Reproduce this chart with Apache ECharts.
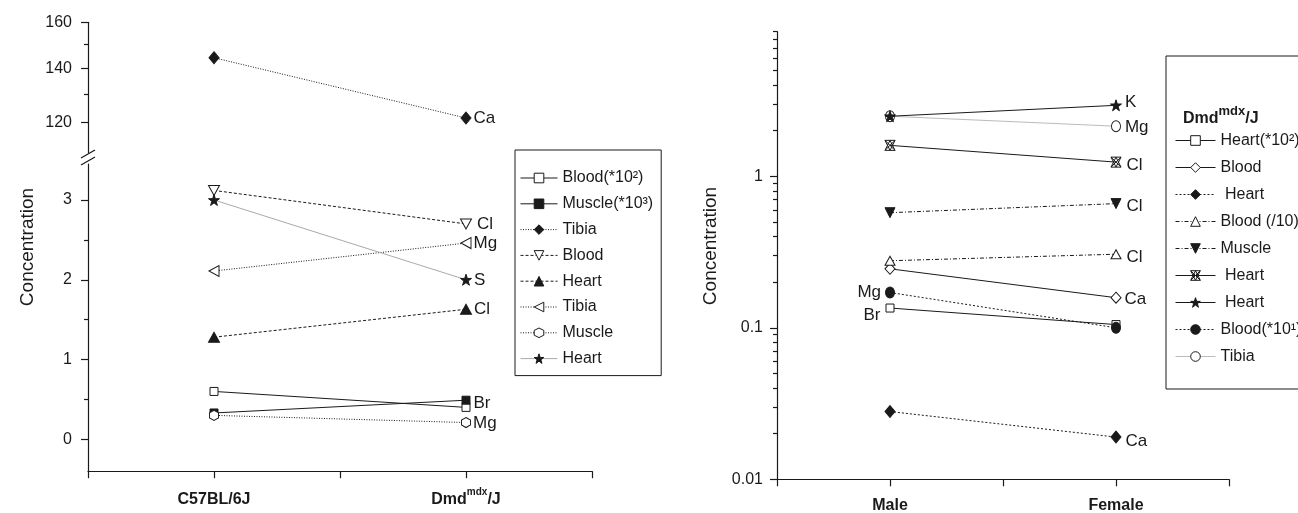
<!DOCTYPE html>
<html><head><meta charset="utf-8">
<script src="https://cdn.jsdelivr.net/npm/echarts@6/dist/echarts.min.js"></script>
<style>html,body{margin:0;padding:0;background:#fff}#c{width:1298px;height:513px}</style>
</head><body><div id="c"></div>
<script>
const FONT = '"Liberation Sans", Arial, Helvetica, sans-serif';
const INK = '#1a1a1a';
const GREY = '#aaaaaa';

// ---------- Left panel data ----------
const leftCategories = ['C57BL/6J', 'Dmd^{mdx}/J'];
const leftNames = ['Blood(*10²)', 'Muscle(*10³)', 'Tibia', 'Blood', 'Heart', 'Tibia', 'Muscle', 'Heart'];
const leftBlood100 = [0.60, 0.40];
const leftMuscle1000 = [0.33, 0.49];
const leftTibiaCa = [144.5, 121.5];
const leftBloodCl = [3.12, 2.70];
const leftHeartCl = [1.28, 1.63];
const leftTibiaMg = [2.11, 2.46];
const leftMuscleMg = [0.30, 0.21];
const leftHeartS = [3.00, 2.00];
const leftEndLabels = ['', 'Br', 'Ca', 'Cl', 'Cl', 'Mg', 'Mg', 'S'];
const leftUpperTicks = [120, 140, 160];
const leftUpperMinor = [130, 150];
const leftLowerTicks = [0, 1, 2, 3];
const leftLowerMinor = [0.5, 1.5, 2.5];

// ---------- Right panel data ----------
const rightCategories = ['Male', 'Female'];
const rightTitle = 'Dmd^{mdx}/J';
const rightNames = ['Heart(*10²)', 'Blood', ' Heart', 'Blood (/10)', 'Muscle', ' Heart', ' Heart', 'Blood(*10¹)', 'Tibia'];
const rightHeart100 = [0.135, 0.105];
const rightBloodCa = [0.245, 0.158];
const rightHeartCa = [0.028, 0.019];
const rightBlood10Cl = [0.277, 0.306];
const rightMuscleCl = [0.575, 0.66];
const rightHeartCl = [1.60, 1.24];
const rightHeartK = [2.49, 2.94];
const rightBlood10Mg = [0.171, 0.100];
const rightTibiaMg = [2.49, 2.14];
const rightStartLabels = ['Br', '', '', '', '', '', '', 'Mg', ''];
const rightEndLabels = ['', 'Ca', 'Ca', 'Cl', 'Cl', 'Cl', 'K', '', 'Mg'];
const rightMajorTicks = [0.01, 0.1, 1];
const rightMinorTicks = [0.02, 0.03, 0.04, 0.05, 0.06, 0.07, 0.08, 0.09,
  0.2, 0.3, 0.4, 0.5, 0.6, 0.7, 0.8, 0.9, 2, 3, 4, 5, 6, 7, 8, 9];

// ---------- symbols ----------
const SYM = {
  triDown: 'path://M0,0L100,0L50,100Z',
  triLeft: 'path://M0,50L100,0L100,100Z',
  hex: 'path://M50,0L95,25L95,75L50,100L5,75L5,25Z',
  star: 'path://M50,0L61.8,34.5L97.6,34.5L68.8,55.9L79.4,90.5L50,69.1L20.6,90.5L31.2,55.9L2.4,34.5L38.2,34.5Z',
  aster: 'path://M50,0L100,100L0,100Z M0,0L100,0L50,100Z M0,0L100,100 M100,0L0,100'
};

function toRich(s, big, small) {
  const m = s.match(/^(.*)\^\{(.*)\}(.*)$/);
  if (!m) return '{' + big + '|' + s + '}';
  return '{' + big + '|' + m[1] + '}{' + small + '|' + m[2] + '}{' + big + '|' + m[3] + '}';
}
const catX = i => 1 + 2 * i;

function mk(o) {
  const data = o.vals.map((v, i) => {
    const d = { value: [catX(i), v] };
    const lab = i === 0 ? o.startLabel : o.endLabel;
    if (lab) {
      d.label = {
        show: true, formatter: lab, position: i === 0 ? 'left' : 'right',
        distance: o.dist == null ? 3 : o.dist,
        offset: i === 0 ? (o.startOffset || [0, 0]) : (o.endOffset || [0, 0])
      };
    }
    return d;
  });
  return {
    type: 'line', name: o.name, xAxisIndex: o.xi, yAxisIndex: o.yi, data,
    symbol: o.symbol, symbolSize: o.size || 9,
    itemStyle: { color: o.fill, borderColor: INK, borderWidth: 1 },
    lineStyle: { color: o.line || INK, width: 1, type: o.dash || 'solid' },
    label: { color: INK, fontSize: 17, fontFamily: FONT },
    emphasis: { disabled: true }, animation: false, z: o.z || 2
  };
}

const series = [
  // left lower grid: xAxis 1, yAxis 2
  mk({ name: leftNames[0] + '#L0', vals: leftBlood100, xi: 1, yi: 2, symbol: 'rect', size: 8, fill: '#fff' }),
  mk({ name: leftNames[1] + '#L1', vals: leftMuscle1000, xi: 1, yi: 2, symbol: 'rect', size: 8, fill: INK, endLabel: leftEndLabels[1], endOffset: [0, 3], dist: 3 }),
  mk({ name: leftNames[2] + '#L2', vals: leftTibiaCa, xi: 0, yi: 0, symbol: 'diamond', size: [10, 12], fill: INK, dash: [1, 1.5], endLabel: leftEndLabels[2], dist: 2 }),
  mk({ name: leftNames[3] + '#L3', vals: leftBloodCl, xi: 1, yi: 2, symbol: SYM.triDown, size: [11, 10], fill: '#fff', dash: [3, 2], endLabel: leftEndLabels[3], dist: 5 }),
  mk({ name: leftNames[4] + '#L4', vals: leftHeartCl, xi: 1, yi: 2, symbol: 'triangle', size: [11, 10], fill: INK, dash: [3, 2], endLabel: leftEndLabels[4], dist: 2 }),
  mk({ name: leftNames[5] + '#L5', vals: leftTibiaMg, xi: 1, yi: 2, symbol: SYM.triLeft, size: [10, 11], fill: '#fff', dash: [1, 1.5], endLabel: leftEndLabels[5], dist: 2 }),
  mk({ name: leftNames[6] + '#L6', vals: leftMuscleMg, xi: 1, yi: 2, symbol: SYM.hex, size: [9, 10], fill: '#fff', dash: [1, 1.5], endLabel: leftEndLabels[6], dist: 2, endOffset: [0, 1] }),
  mk({ name: leftNames[7] + '#L7', vals: leftHeartS, xi: 1, yi: 2, symbol: SYM.star, size: 11, fill: INK, line: GREY, endLabel: leftEndLabels[7], dist: 2, endOffset: [0, 1] }),
  // right grid: xAxis 2, yAxis 4
  mk({ name: rightNames[0] + '#R0', vals: rightHeart100, xi: 2, yi: 4, symbol: 'rect', size: 8, fill: '#fff', startLabel: rightStartLabels[0], startOffset: [0, 7], dist: 5 }),
  mk({ name: rightNames[1] + '#R1', vals: rightBloodCa, xi: 2, yi: 4, symbol: 'diamond', size: [10, 11], fill: '#fff', endLabel: rightEndLabels[1], endOffset: [0, 2], dist: 3 }),
  mk({ name: rightNames[2] + '#R2', vals: rightHeartCa, xi: 2, yi: 4, symbol: 'diamond', size: [10, 12], fill: INK, dash: [2, 2], endLabel: rightEndLabels[2], endOffset: [0, 4], dist: 4 }),
  mk({ name: rightNames[3] + '#R3', vals: rightBlood10Cl, xi: 2, yi: 4, symbol: 'triangle', size: [10, 9], fill: '#fff', dash: [4, 2, 1, 2], endLabel: rightEndLabels[3], endOffset: [0, 3], dist: 5 }),
  mk({ name: rightNames[4] + '#R4', vals: rightMuscleCl, xi: 2, yi: 4, symbol: SYM.triDown, size: [10, 10], fill: INK, dash: [4, 2, 1, 2], endLabel: rightEndLabels[4], endOffset: [0, 3], dist: 5 }),
  mk({ name: rightNames[5] + '#R5', vals: rightHeartCl, xi: 2, yi: 4, symbol: SYM.aster, size: [10, 10], fill: 'rgba(0,0,0,0)', endLabel: rightEndLabels[5], endOffset: [0, 3], dist: 5 }),
  mk({ name: rightNames[6] + '#R6', vals: rightHeartK, xi: 2, yi: 4, symbol: SYM.star, size: 11, fill: INK, endLabel: rightEndLabels[6], endOffset: [0, -3], dist: 3 }),
  mk({ name: rightNames[7] + '#R7', vals: rightBlood10Mg, xi: 2, yi: 4, symbol: 'circle', size: [9, 11], fill: INK, dash: [2, 2], startLabel: rightStartLabels[7], dist: 4 }),
  mk({ name: rightNames[8] + '#R8', vals: rightTibiaMg, xi: 2, yi: 4, symbol: 'circle', size: [9, 11], fill: '#fff', line: '#bbbbbb', endLabel: rightEndLabels[8], endOffset: [0, 1], dist: 4, z: 1 })
];

const richX = {
  b: { fontSize: 16, fontWeight: 'bold', fontFamily: FONT, color: INK, lineHeight: 20, verticalAlign: 'bottom' },
  s: { fontSize: 10, fontWeight: 'bold', fontFamily: FONT, color: INK, lineHeight: 20, verticalAlign: 'top' }
};
function xLabelFmt(cats) {
  return v => {
    const i = (v - 1) / 2;
    if (Number.isInteger(i) && cats[i] != null) return toRich(cats[i], 'b', 's');
    return '';
  };
}
const xCommon = {
  type: 'value', min: 0, max: 4, interval: 1,
  axisLine: { onZero: false, lineStyle: { color: INK, width: 1.2 } },
  axisTick: { length: 7, lineStyle: { color: INK, width: 1.2 } },
  splitLine: { show: false }
};
const yMajorStyle = (ticks, margin) => ({
  position: 'left',
  axisLine: { show: true, onZero: false, lineStyle: { color: INK, width: 1.2 } },
  axisTick: { show: true, length: 7, customValues: ticks, lineStyle: { color: INK, width: 1.2 } },
  axisLabel: { customValues: ticks, fontSize: 16, color: INK, fontFamily: FONT, margin: margin,
    formatter: v => String(+(+v).toPrecision(6)) },
  splitLine: { show: false }, minorTick: { show: false }
});
const yMinorStyle = ticks => ({
  position: 'left',
  axisLine: { show: false, onZero: false },
  axisTick: { show: true, length: 4, customValues: ticks, lineStyle: { color: INK, width: 1.2 } },
  axisLabel: { show: false },
  splitLine: { show: false }
});

const legendCommon = {
  orient: 'vertical', selectedMode: false, borderColor: INK, borderWidth: 1, borderRadius: 0,
  itemHeight: 12, textStyle: { fontSize: 16, color: INK, fontFamily: FONT, lineHeight: 15 },
  itemStyle: { borderWidth: 1 }, lineStyle: { width: 1 },
  formatter: n => n.replace(/#\w+$/, '')
};

const option = {
  backgroundColor: '#fff',
  animation: false,
  grid: [
    { left: 88, top: 22.3, width: 504, height: 130.3, outerBoundsMode: 'none' },
    { left: 88, top: 164.1, width: 504, height: 307.1, outerBoundsMode: 'none' },
    { left: 777, top: 31.7, width: 452, height: 447.6, outerBoundsMode: 'none' }
  ],
  xAxis: [
    Object.assign({}, xCommon, { gridIndex: 0, show: false }),
    Object.assign({}, xCommon, { gridIndex: 1, axisLabel: { formatter: xLabelFmt(leftCategories), margin: 16, rich: richX } }),
    Object.assign({}, xCommon, { gridIndex: 2, axisLabel: { formatter: xLabelFmt(rightCategories), margin: 14, rich: richX } })
  ],
  yAxis: [
    Object.assign({ gridIndex: 0, type: 'log', logBase: 10, min: 110, max: 160 }, yMajorStyle(leftUpperTicks, 16)),
    Object.assign({ gridIndex: 0, type: 'log', logBase: 10, min: 110, max: 160 }, yMinorStyle(leftUpperMinor)),
    Object.assign({ gridIndex: 1, type: 'value', min: -0.4, max: 3.45 }, yMajorStyle(leftLowerTicks, 16)),
    Object.assign({ gridIndex: 1, type: 'value', min: -0.4, max: 3.45 }, yMinorStyle(leftLowerMinor)),
    Object.assign({ gridIndex: 2, type: 'log', logBase: 10, min: 0.01, max: 9 }, yMajorStyle(rightMajorTicks, 14)),
    Object.assign({ gridIndex: 2, type: 'log', logBase: 10, min: 0.01, max: 9 }, yMinorStyle(rightMinorTicks))
  ],
  legend: [
    Object.assign({}, legendCommon, {
      left: 515, top: 150, padding: [20, 8, 9, 5], itemGap: 9.8, itemWidth: 37,
      data: series.filter(s => /#L/.test(s.name)).map(s => s.name)
    }),
    Object.assign({}, legendCommon, {
      left: 1166, top: 56, padding: [76.5, 20, 24.5, 9], itemGap: 11, itemWidth: 40,
      data: series.filter(s => /#R/.test(s.name)).map(s => s.name)
    })
  ],
  graphic: [
    { type: 'line', shape: { x1: 81, y1: 158, x2: 95, y2: 150 }, style: { stroke: INK, lineWidth: 1.2 }, z: 10 },
    { type: 'line', shape: { x1: 81, y1: 165, x2: 95, y2: 157 }, style: { stroke: INK, lineWidth: 1.2 }, z: 10 },
    { type: 'text', x: 28, y: 247, rotation: Math.PI / 2,
      style: { text: 'Concentration', fontSize: 19, fontFamily: FONT, fill: INK, align: 'center', verticalAlign: 'middle' } },
    { type: 'text', x: 711, y: 246, rotation: Math.PI / 2,
      style: { text: 'Concentration', fontSize: 19, fontFamily: FONT, fill: INK, align: 'center', verticalAlign: 'middle' } },
    { type: 'text', x: 1183, y: 116,
      style: { text: toRich(rightTitle, 'b', 's'), align: 'left', verticalAlign: 'middle',
        rich: {
          b: { fontSize: 16, fontWeight: 'bold', fontFamily: FONT, fill: INK, lineHeight: 22, verticalAlign: 'bottom' },
          s: { fontSize: 13, fontWeight: 'bold', fontFamily: FONT, fill: INK, lineHeight: 22, verticalAlign: 'top' }
        } } }
  ],
  series
};

const chart = echarts.init(document.getElementById('c'), null, { renderer: 'canvas' });
chart.setOption(option);
</script>
</body></html>
